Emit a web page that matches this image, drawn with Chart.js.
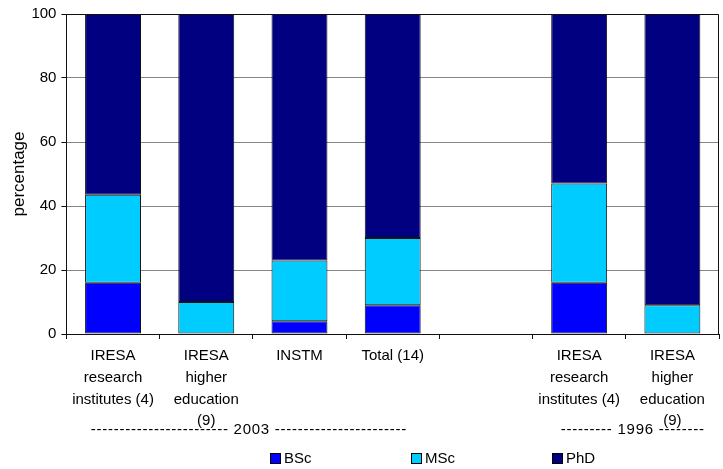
<!DOCTYPE html>
<html>
<head>
<meta charset="utf-8">
<title>Staff qualifications</title>
<script src="https://cdn.jsdelivr.net/npm/chart.js@4.4.1/dist/chart.umd.min.js"></script>
<style>
  html, body { margin: 0; padding: 0; background: #fff; }
  #wrap { width: 723px; height: 469px; }
</style>
</head>
<body>
<div id="wrap"><canvas id="grafik" width="723" height="469"></canvas></div>
<script>
const categories = [
  ["IRESA", "research", "institutes (4)"],
  ["IRESA", "higher", "education", "(9)"],
  ["INSTM"],
  ["Total (14)"],
  [""],
  ["IRESA", "research", "institutes (4)"],
  ["IRESA", "higher", "education", "(9)"]
];
const bsc = [16, 0, 4, 9, null, 16, 0];
const msc = [27.5, 10, 19, 21, null, 31, 9];
const phd = [56.5, 90, 77, 70, null, 53, 91];
const yTicks = [0, 20, 40, 60, 80, 100];
// year groups: [label, first category, last category]
const yearGroups = [
  ["------------------------ 2003 -----------------------", 0, 3],
  ["--------- 1996 --------", 5, 6]
];

const font = "'Liberation Sans', Arial, sans-serif";

// frame, year captions and legend
const extras = {
  id: "extras",
  afterDraw(chart) {
    const ctx = chart.ctx;
    const a = chart.chartArea;
    const x = chart.scales.x;
    ctx.save();
    ctx.strokeStyle = "#111";
    ctx.lineWidth = 1;
    ctx.beginPath();
    ctx.moveTo(a.left, a.top + 0.5);
    ctx.lineTo(a.right - 0.5, a.top + 0.5);
    ctx.lineTo(a.right - 0.5, a.bottom);
    ctx.stroke();

    ctx.fillStyle = "#000";
    ctx.font = "15px " + font;
    ctx.textAlign = "center";
    ctx.textBaseline = "middle";
    ctx.letterSpacing = "0.75px";
    const nudge = [-4, 7];
    yearGroups.forEach((g, i) => {
      const cx = (x.getPixelForValue(g[1]) + x.getPixelForValue(g[2])) / 2;
      ctx.fillText(g[0], cx + nudge[i], 430);
    });
    ctx.letterSpacing = "0px";

    ctx.textAlign = "left";
    chart.data.datasets.forEach((ds, i) => {
      const lx = 270 + i * 141;
      ctx.fillStyle = ds.backgroundColor;
      ctx.fillRect(lx, 453, 10, 10);
      ctx.strokeStyle = "#000";
      ctx.strokeRect(lx + 0.5, 453.5, 10, 10);
      ctx.fillStyle = "#000";
      ctx.fillText(ds.label, lx + 14, 459);
    });
    ctx.restore();
  }
};

const ctx = document.getElementById("grafik").getContext("2d");
new Chart(ctx, {
  type: "bar",
  data: {
    labels: categories,
    datasets: [
      { label: "BSc", data: bsc, backgroundColor: "#0000FF" },
      { label: "MSc", data: msc, backgroundColor: "#00CCFF" },
      { label: "PhD", data: phd, backgroundColor: "#000080" }
    ].map(d => Object.assign(d, {
      borderColor: "#111",
      borderWidth: 1,
      borderSkipped: false,
      barPercentage: 0.6,
      categoryPercentage: 1
    }))
  },
  options: {
    responsive: false,
    animation: false,
    layout: { padding: { top: 6, right: 4, bottom: 31, left: 0 } },
    plugins: {
      legend: { display: false },
      tooltip: { enabled: false }
    },
    scales: {
      x: {
        stacked: true,
        grid: {
          offset: true,
          drawOnChartArea: false,
          tickLength: 5,
          tickColor: "#111"
        },
        border: { color: "#111", width: 1 },
        ticks: {
          color: "#000",
          padding: 6,
          maxRotation: 0,
          autoSkip: false,
          font: { family: font, size: 15, lineHeight: 1.45 }
        }
      },
      y: {
        stacked: true,
        min: 0,
        max: 100,
        afterBuildTicks: axis => { axis.ticks = yTicks.map(v => ({ value: v })); },
        grid: {
          color: "#858585",
          tickLength: 5,
          tickColor: "#111"
        },
        border: { color: "#111", width: 1 },
        ticks: {
          color: "#000",
          padding: 5,
          font: { family: font, size: 15 }
        },
        title: {
          display: true,
          text: "percentage",
          color: "#000",
          padding: { top: 9, bottom: -3 },
          font: { family: font, size: 17 }
        }
      }
    }
  },
  plugins: [extras]
});
</script>
</body>
</html>
